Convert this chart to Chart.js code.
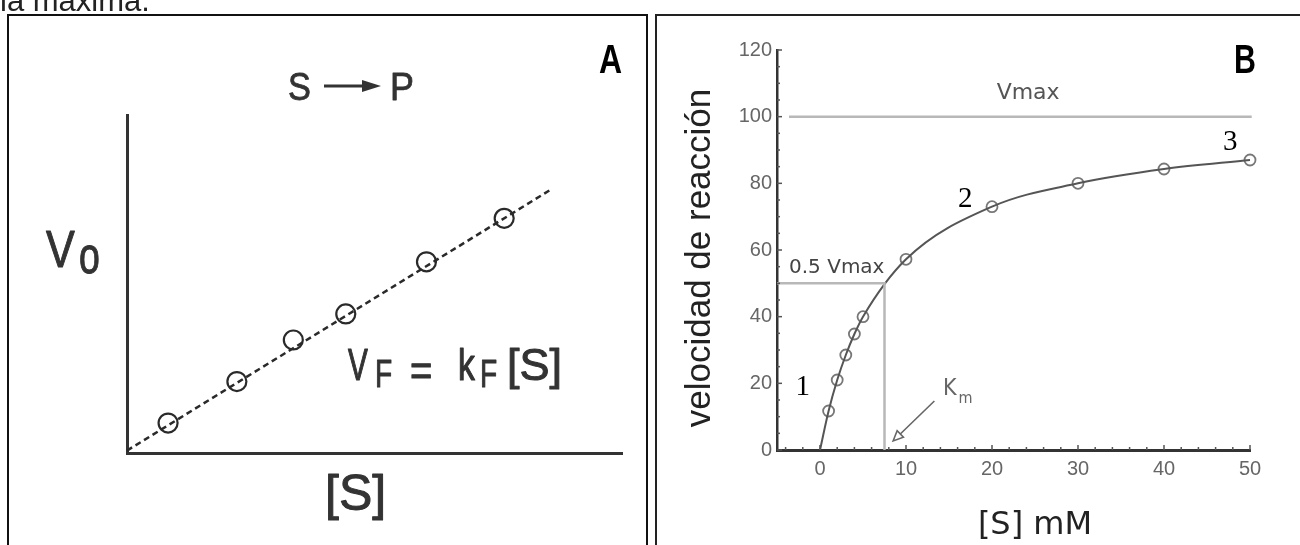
<!DOCTYPE html>
<html><head><meta charset="utf-8">
<script src="https://cdn.jsdelivr.net/npm/chart.js@4.4.0/dist/chart.umd.min.js"></script>
<style>
html,body{margin:0;padding:0;background:#fff;width:1300px;height:545px;overflow:hidden;position:relative}
canvas{position:absolute;left:0;top:0}
.frame{position:absolute;box-sizing:border-box}
#fa{left:7px;top:14px;width:641px;height:540px;border:2px solid #111;border-bottom:none}
#fb{left:655px;top:14px;width:660px;height:540px;border:2px solid #222;border-right:none;border-bottom:none}
</style></head>
<body>
<div class="frame" id="fa"></div>
<div class="frame" id="fb"></div>
<canvas id="ca" width="1300" height="545"></canvas>
<canvas id="cb" width="1300" height="545"></canvas>
<script>
// ---------- Panel A data (arbitrary units) ----------
const aS = [0.83, 2.22, 3.36, 4.42, 6.05, 7.62];
const aV = [0.62, 1.48, 2.34, 2.88, 3.96, 4.86];
const aLineS = [0, 8.6];
const aLineV = [0.05, 5.48];

// ---------- Panel B data ----------
const bS = [1, 2, 3, 4, 5, 10, 20, 30, 40, 50];
const bV = [11.7, 21, 28.5, 34.8, 40, 57.2, 73, 80, 84.3, 87];
const bCurveS = [0, 1, 2, 3, 4, 5, 10, 20, 30, 40, 50];
const bCurveV = [0, 11.7, 21, 28.5, 34.8, 40, 57.2, 73, 80, 84.3, 87];
const bXTicks = [0, 10, 20, 30, 40, 50];
const bYTicks = [0, 20, 40, 60, 80, 100, 120];
const vmax = 100;
const halfVmax = 50;
const km = 7.5;

const SANS = '"Liberation Sans", Arial, sans-serif';
const DJ = '"DejaVu Sans", Verdana, sans-serif';
const SERIF = '"Liberation Serif", "Times New Roman", serif';

function txt(ctx, s, x, y, font, color, align, sx, rot, stroke) {
  ctx.save();
  ctx.translate(x, y);
  if (rot) ctx.rotate(rot);
  ctx.scale(sx || 1, 1);
  ctx.font = font; ctx.fillStyle = color;
  ctx.textAlign = align || 'left'; ctx.textBaseline = 'alphabetic';
  ctx.fillText(s, 0, 0);
  if (stroke) { ctx.strokeStyle = color; ctx.lineWidth = stroke; ctx.lineJoin = 'round'; ctx.strokeText(s, 0, 0); }
  ctx.restore();
}

const annA = {
  id: 'annA',
  afterDraw(chart) {
    const ctx = chart.ctx;
    const c = '#333';
    txt(ctx, 'la máxima.', 0, 11, '31px ' + SANS, '#222');
    txt(ctx, 'A', 599, 73, 'bold 40px ' + SANS, '#000', 'left', 0.8);
    // S -> P
    txt(ctx, 'S', 288, 100, '39px ' + SANS, c, 'left', 0.88, 0, 0.8);
    ctx.save();
    ctx.strokeStyle = c; ctx.fillStyle = c; ctx.lineWidth = 3;
    ctx.beginPath(); ctx.moveTo(324, 86); ctx.lineTo(366, 86); ctx.stroke();
    ctx.beginPath(); ctx.moveTo(362, 80); ctx.lineTo(381, 86); ctx.lineTo(362, 92); ctx.closePath(); ctx.fill();
    ctx.restore();
    txt(ctx, 'P', 390, 100, '39px ' + SANS, c, 'left', 0.92, 0, 0.8);
    // V0 axis label
    txt(ctx, 'V', 46, 267, '52px ' + SANS, c, 'left', 0.83, 0, 1);
    txt(ctx, 'o', 79, 273, '52px ' + SANS, c, 'left', 0.72, 0, 1);
    // VF = kF[S]
    txt(ctx, 'V', 348, 380, '45px ' + SANS, c, 'left', 0.66, 0, 1.2);
    txt(ctx, 'F', 375, 387, '38px ' + SANS, c, 'left', 0.74, 0, 1);
    txt(ctx, '=', 410, 385, '45px ' + SANS, c, 'left', 0.85, 0, 1);
    txt(ctx, 'k', 458, 380, '45px ' + SANS, c, 'left', 0.75, 0, 1.2);
    txt(ctx, 'F', 480, 387, '38px ' + SANS, c, 'left', 0.74, 0, 1);
    txt(ctx, '[S]', 507, 380, '45px ' + SANS, c, 'left', 1, 0, 1);
    // [S] axis label
    txt(ctx, '[S]', 325, 510, '50px ' + SANS, c, 'left', 1, 0, 1);
  }
};

new Chart(document.getElementById('ca'), {
  type: 'scatter',
  data: {
    datasets: [
      { type: 'line', data: aLineS.map((x, i) => ({x: x, y: aLineV[i]})),
        borderColor: '#2a2a2a', borderWidth: 2.5, borderDash: [6, 4], pointRadius: 0, fill: false, clip: false },
      { data: aS.map((x, i) => ({x: x, y: aV[i]})), pointRadius: 9.5, pointBorderWidth: 2.2,
        pointBorderColor: '#2a2a2a', pointBackgroundColor: 'rgba(0,0,0,0)', showLine: false, clip: false }
    ]
  },
  options: {
    responsive: false, animation: false, devicePixelRatio: 1, events: [],
    layout: { padding: { left: 0, top: 115, right: 678, bottom: 0 } },
    plugins: { legend: { display: false }, tooltip: { enabled: false } },
    scales: {
      x: { type: 'linear', min: 0, max: 10, grid: { display: false, drawTicks: false }, ticks: { display: false },
           border: { display: true, color: '#333', width: 3 }, afterFit(s) { s.height = 92; } },
      y: { type: 'linear', min: 0, max: 7, grid: { display: false, drawTicks: false }, ticks: { display: false },
           border: { display: true, color: '#333', width: 3 }, afterFit(s) { s.width = 127; } }
    }
  },
  plugins: [annA]
});

const annB = {
  id: 'annB',
  afterDraw(chart) {
    const ctx = chart.ctx;
    const xs = chart.scales.x, ys = chart.scales.y;
    const ca = chart.chartArea;
    const X = v => xs.getPixelForValue(v), Y = v => ys.getPixelForValue(v);
    ctx.save();
    ctx.strokeStyle = '#555'; ctx.lineWidth = 1.5;
    // inward ticks on y axis
    for (let v = 0; v <= 120; v += 5) {
      const len = v % 20 === 0 ? 5 : 3;
      ctx.beginPath(); ctx.moveTo(ca.left, Y(v)); ctx.lineTo(ca.left + len, Y(v)); ctx.stroke();
    }
    // inward ticks on x axis
    for (let v = -4; v <= 50; v += 2) {
      const len = v % 10 === 0 ? 5 : 3;
      ctx.beginPath(); ctx.moveTo(X(v), ca.bottom); ctx.lineTo(X(v), ca.bottom - len); ctx.stroke();
    }
    // Km arrow
    const x1 = X(13.3), y1 = Y(14.7), x2 = X(8.5), y2 = Y(2.7);
    const ang = Math.atan2(y2 - y1, x2 - x1);
    ctx.strokeStyle = '#666'; ctx.lineWidth = 1.6;
    const bx = x2 - 10 * Math.cos(ang), by = y2 - 10 * Math.sin(ang);
    ctx.beginPath(); ctx.moveTo(x1, y1); ctx.lineTo(bx, by); ctx.stroke();
    const px = -Math.sin(ang) * 4.5, py = Math.cos(ang) * 4.5;
    ctx.fillStyle = '#fff';
    ctx.beginPath(); ctx.moveTo(x2, y2); ctx.lineTo(bx + px, by + py); ctx.lineTo(bx - px, by - py); ctx.closePath();
    ctx.fill(); ctx.stroke();
    ctx.restore();
    // labels
    txt(ctx, 'Vmax', X(24.2), Y(105.3), '22px ' + DJ, '#555', 'center');
    txt(ctx, '0.5 Vmax', X(-3.6), Y(53.1), '20px ' + DJ, '#444', 'left');
    txt(ctx, '1', X(-2.0), Y(16.5), '29px ' + SERIF, '#000', 'center');
    txt(ctx, '2', X(16.9), Y(73.0), '29px ' + SERIF, '#000', 'center');
    txt(ctx, '3', X(47.7), Y(90.0), '29px ' + SERIF, '#000', 'center');
    txt(ctx, 'K', X(14.3), Y(16.5), '23px ' + DJ, '#666', 'left', 0.9);
    txt(ctx, 'm', X(16.1), Y(14.2), '16px ' + DJ, '#666', 'left', 0.9);
    txt(ctx, 'B', 1234, 73, 'bold 40px ' + SANS, '#000', 'left', 0.76);
    // axis titles
    txt(ctx, '[S] mM', X(25), ca.bottom + 84, '32px ' + DJ, '#222', 'center');
    txt(ctx, 'velocidad de reacción', ca.left - 67, Y(57.6), '35px ' + SANS, '#222', 'center', 1, -Math.PI / 2);
  }
};

new Chart(document.getElementById('cb'), {
  type: 'scatter',
  data: {
    datasets: [
      { type: 'line', data: [{x: -3.6, y: vmax}, {x: 50.2, y: vmax}], borderColor: '#b8b8b8', borderWidth: 2.5,
        pointRadius: 0, fill: false, clip: false },
      { type: 'line', data: [{x: -5, y: halfVmax}, {x: km, y: halfVmax}, {x: km, y: 0}], borderColor: '#b8b8b8',
        borderWidth: 2.5, pointRadius: 0, fill: false, clip: false },
      { type: 'line', data: bCurveS.map((x, i) => ({x: x, y: bCurveV[i]})), borderColor: '#555', borderWidth: 2,
        pointRadius: 0, cubicInterpolationMode: 'monotone', fill: false, clip: false },
      { data: bS.map((x, i) => ({x: x, y: bV[i]})), pointRadius: 5.5, pointBorderWidth: 1.8,
        pointBorderColor: '#777', pointBackgroundColor: '#fff', showLine: false, clip: false }
    ]
  },
  options: {
    responsive: false, animation: false, devicePixelRatio: 1, events: [],
    layout: { padding: { left: 0, top: 50, right: 50, bottom: 0 } },
    plugins: { legend: { display: false }, tooltip: { enabled: false } },
    scales: {
      x: { type: 'linear', min: -5, max: 50,
           afterBuildTicks(s) { s.ticks = bXTicks.map(v => ({value: v})); },
           grid: { display: false, drawTicks: false },
           ticks: { padding: 7, color: '#666', font: { family: 'Liberation Sans', size: 20 }, autoSkip: false, maxRotation: 0 },
           border: { display: true, color: '#333', width: 3 }, afterFit(s) { s.height = 95; } },
      y: { type: 'linear', min: 0, max: 120,
           afterBuildTicks(s) { s.ticks = bYTicks.map(v => ({value: v})); },
           grid: { display: false, drawTicks: false },
           ticks: { padding: 5, color: '#666', font: { family: 'Liberation Sans', size: 20 }, autoSkip: false },
           border: { display: true, color: '#333', width: 2.5 }, afterFit(s) { s.width = 777; } }
    }
  },
  plugins: [annB]
});
</script>
</body></html>
